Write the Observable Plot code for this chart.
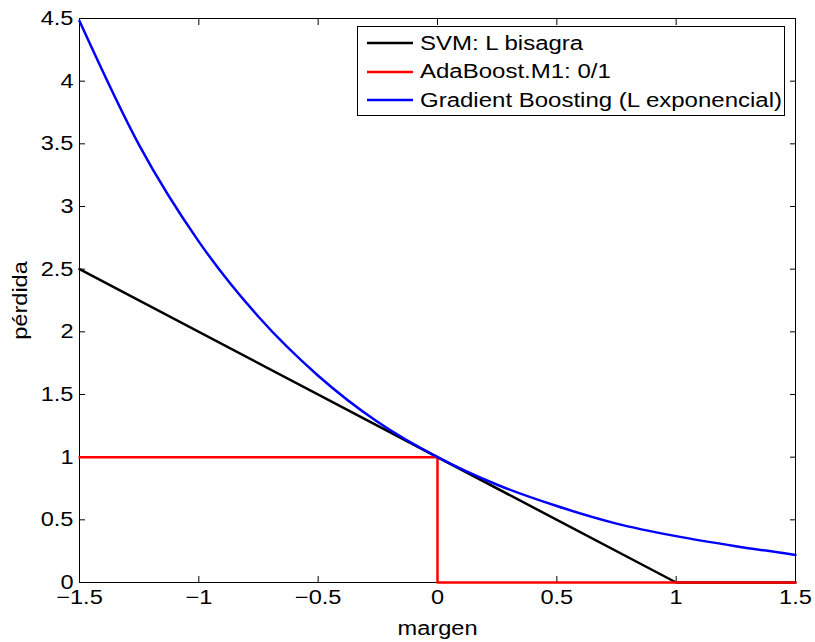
<!DOCTYPE html>
<html><head><meta charset="utf-8">
<script src="https://cdn.jsdelivr.net/npm/d3@7"></script>
<script src="https://cdn.jsdelivr.net/npm/@observablehq/plot@0.6"></script>
<style>
body{margin:0;background:#fff;font-family:"Liberation Sans",Arial,sans-serif;}
#wrap{position:relative;width:815px;height:642px;}
#legend{position:absolute;left:357px;top:26px;width:428px;height:90px;border:1px solid #000;background:#fff;font-size:20px;padding-top:2px;box-sizing:border-box;}
#legend .row{display:flex;align-items:center;height:28.5px;}
#legend svg{margin-left:9px;margin-right:7px;flex:none;}
#legend span{display:inline-block;transform:scaleX(1.2);transform-origin:left center;white-space:nowrap;}
</style></head><body>
<div id="wrap"></div>
<script>
const xTicks = [-1.5, -1, -0.5, 0, 0.5, 1, 1.5];
const yTicks = [0, 0.5, 1, 1.5, 2, 2.5, 3, 3.5, 4, 4.5];

const hingeX = [-1.5, 1, 1.5];
const hingeY = [2.5, 0, 0];

const zeroOneX = [-1.5, 0, 0, 1.5];
const zeroOneY = [1, 1, 0, 0];

const expX = [-1.5, -1.25, -1, -0.75, -0.5, -0.25, 0, 0.25, 0.5, 0.75, 1, 1.25, 1.5];
const expY = [4.48, 3.49, 2.72, 2.12, 1.65, 1.28, 1.0, 0.78, 0.61, 0.47, 0.37, 0.29, 0.22];

const series = [
  {name: "SVM: L bisagra", color: "#000000", xs: hingeX, ys: hingeY, curve: "linear"},
  {name: "AdaBoost.M1: 0/1", color: "#ff0000", xs: zeroOneX, ys: zeroOneY, curve: "linear"},
  {name: "Gradient Boosting (L exponencial)", color: "#0000ff", xs: expX, ys: expY, curve: "monotone-x"}
];

const marks = [];
for (const s of series) {
  const data = s.xs.map((x, i) => ({x, y: s.ys[i]}));
  marks.push(Plot.line(data, {x: "x", y: "y", stroke: s.color, strokeWidth: 2.5, curve: s.curve}));
}

const fmt = d => d3.format("")(d).replace("-", "\u2212");
const plot = Plot.plot({
  width: 815, height: 642,
  marginLeft: 79, marginRight: 20, marginTop: 18, marginBottom: 60,
  style: {fontFamily: "Liberation Sans, Arial, sans-serif", fontSize: "20px", background: "#fff"},
  x: {domain: [-1.5, 1.5]},
  y: {domain: [0, 4.5]},
  marks: [
    Plot.frame({stroke: "#000", strokeWidth: 1}),
    Plot.axisX(xTicks, {anchor: "bottom", tickSize: -6, tickPadding: 13, tickFormat: fmt, label: "margen", labelAnchor: "center", labelArrow: "none", labelOffset: 52, fill: "#000", stroke: "#000"}),
    Plot.axisX(xTicks, {anchor: "top", tickSize: -6, tickFormat: () => "", label: null, stroke: "#000"}),
    Plot.axisY(yTicks, {anchor: "left", tickSize: -6, tickPadding: 12, tickFormat: d => String(d), label: "pérdida", labelAnchor: "center", labelArrow: "none", labelOffset: 67, fill: "#000", stroke: "#000"}),
    Plot.axisY(yTicks, {anchor: "right", tickSize: -6, tickFormat: () => "", label: null, stroke: "#000"}),
    ...marks
  ]
});
const wrap = document.getElementById("wrap");
wrap.appendChild(plot);

// widen glyphs horizontally like the reference rendering
plot.querySelectorAll("text").forEach(t => {
  const len = t.getComputedTextLength();
  if (len > 0) {
    t.setAttribute("textLength", (len * 1.18).toFixed(1));
    t.setAttribute("lengthAdjust", "spacingAndGlyphs");
  }
});

const legend = document.createElement("div");
legend.id = "legend";
for (const s of series) {
  const row = document.createElement("div");
  row.className = "row";
  row.innerHTML = `<svg width="46" height="4"><line x1="0" y1="2" x2="46" y2="2" stroke="${s.color}" stroke-width="2.5"/></svg><span>${s.name}</span>`;
  legend.appendChild(row);
}
wrap.appendChild(legend);
</script>
</body></html>
